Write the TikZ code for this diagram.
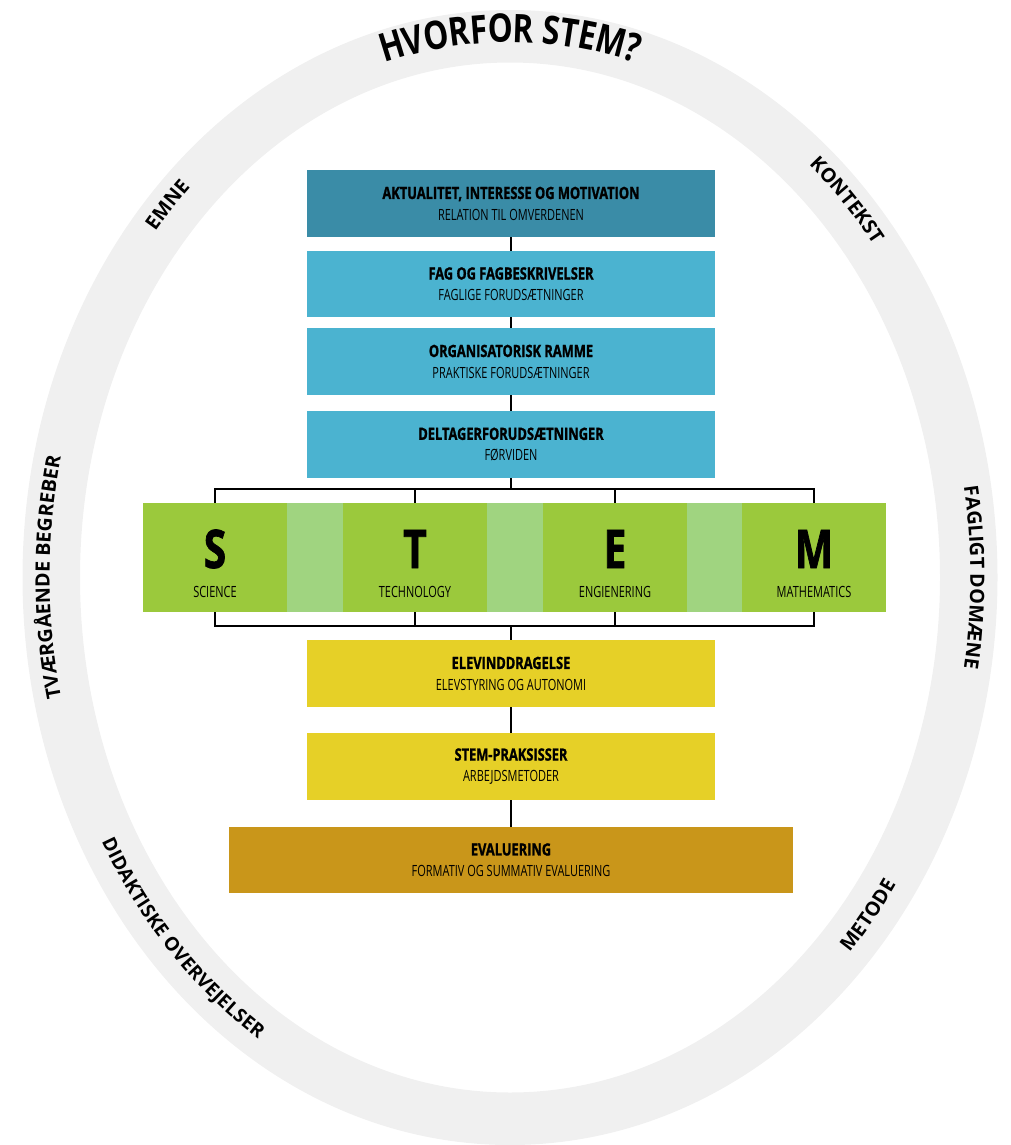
\documentclass[tikz,border=0pt]{standalone}
\usepackage{fontspec}
\setmainfont{Open Sans}
\newfontfamily\boxfont{Open Sans}[FakeStretch=0.71]
\newfontfamily\boxbold{Open Sans}[FakeStretch=0.76, FakeBold=1.3]
\newfontfamily\titlefont{Open Sans}[FakeStretch=0.8]
\usepackage{tikz}
\usetikzlibrary{decorations.text}
\usepackage{xcolor}
\definecolor{ringgray}{HTML}{F0F0F0}
\definecolor{tealdark}{HTML}{3A8CA7}
\definecolor{teallight}{HTML}{4BB3D0}
\definecolor{stemgreen}{HTML}{9BC93C}
\definecolor{stemlight}{HTML}{A0D480}
\definecolor{elevyellow}{HTML}{E6D027}
\definecolor{evalgold}{HTML}{C9961A}

\begin{document}
\begin{tikzpicture}[x=0.025cm, y=0.025cm]
          \tikzset{
            BoxStyle/.style = { rectangle, minimum width = 10.2cm,
              minimum height = 1.675cm, inner sep = 0pt, align = center,
              text = black, font = \boxfont\fontsize{11}{15}\selectfont },
            StemStyle/.style = { rectangle, fill = stemgreen, inner sep = 0pt,
              minimum width = 3.6cm, minimum height = 2.725cm },
            LetterStyle/.style = { inner sep = 0pt,
              font = \boxbold\bfseries\fontsize{38}{38}\selectfont },
            WordStyle/.style = { inner sep = 0pt,
              font = \boxfont\fontsize{11}{11}\selectfont },
            LinkStyle/.style = { draw = black, line width = 1pt },
            RingLabel/.style = { decorate, decoration = { text along path,
              text align = center, raise = 1pt } } }
          \newcommand{\boxtitle}[1]{{\boxbold\bfseries\fontsize{12}{15}\selectfont #1}}

          \useasboundingbox (0,0) rectangle (1011,-1145);
          % ring
          \fill[ringgray, even odd rule]
            (510,-577.5) ellipse [x radius = 487.5, y radius = 567.5]
            (510,-577.5) ellipse [x radius = 430, y radius = 515];

          \path[RingLabel, decoration = {text = {|\titlefont\bfseries\fontsize{28}{28}\selectfont|HVORFOR STEM?}, raise = -4pt}]
            (510,-577.5) ++(125:459 and 541) arc [start angle = 125, end angle = 55, x radius = 459, y radius = 541];
          \path[RingLabel, decoration = {text = {|\bfseries\fontsize{14}{14}\selectfont|EMNE}}]
            (510,-577.5) ++(147:459 and 541) arc [start angle = 147, end angle = 127, x radius = 459, y radius = 541];
          \path[RingLabel, decoration = {text = {|\bfseries\fontsize{14}{14}\selectfont|KONTEKST}}]
            (510,-577.5) ++(60:459 and 541) arc [start angle = 60, end angle = 28, x radius = 459, y radius = 541];
          \path[RingLabel, decoration = {text = {|\bfseries\fontsize{14}{14}\selectfont|TVÆRGÅENDE BEGREBER}}]
            (510,-577.5) ++(205:459 and 541) arc [start angle = 205, end angle = 155, x radius = 459, y radius = 541];
          \path[RingLabel, decoration = {text = {|\bfseries\fontsize{14}{14}\selectfont|FAGLIGT DOMÆNE}}]
            (510,-577.5) ++(22:459 and 541) arc [start angle = 22, end angle = -22, x radius = 459, y radius = 541];
          % these two run the other way round
          \path[RingLabel, decoration = {text = {|\bfseries\fontsize{13.5}{14}\selectfont|DIDAKTISKE OVERVEJELSER}, raise = -5pt}]
            (510,-577.5) ++(194:459 and 541) arc [start angle = 194, end angle = 254, x radius = 459, y radius = 541];
          \path[RingLabel, decoration = {text = {|\bfseries\fontsize{14}{14}\selectfont|METODE}, raise = -5pt}]
            (510,-577.5) ++(305:459 and 541) arc [start angle = 305, end angle = 337, x radius = 459, y radius = 541];

          % boxes above
          \node[BoxStyle, fill = tealdark] (AKTUALITET) at (511,-203.5)
            {\boxtitle{AKTUALITET, INTERESSE OG MOTIVATION}\\RELATION TIL OMVERDENEN};
          \node[BoxStyle, fill = teallight, minimum height = 1.65cm] (FAG) at (511,-284)
            {\boxtitle{FAG OG FAGBESKRIVELSER}\\FAGLIGE FORUDSÆTNINGER};
          \node[BoxStyle, fill = teallight] (ORGANISATION) at (511,-361.5)
            {\boxtitle{ORGANISATORISK RAMME}\\PRAKTISKE FORUDSÆTNINGER};
          \node[BoxStyle, fill = teallight] (DELTAGER) at (511,-444.5)
            {\boxtitle{DELTAGERFORUDSÆTNINGER}\\FØRVIDEN};

          % STEM bar
          \fill[stemlight] (143,-503) rectangle (886,-612);
          \node[StemStyle] (SCI) at (215,-557.5) {};
          \node[StemStyle] (TECH) at (415,-557.5) {};
          \node[StemStyle] (ENG) at (615,-557.5) {};
          \node[StemStyle] (MATH) at (814,-557.5) {};
          \node[LetterStyle] (SCI-letter) at (215,-549) {S};
          \node[LetterStyle] (TECH-letter) at (415,-549) {T};
          \node[LetterStyle] (ENG-letter) at (615,-549) {E};
          \node[LetterStyle] (MATH-letter) at (814,-549) {M};
          \node[WordStyle] (SCI-word) at (215,-592) {SCIENCE};
          \node[WordStyle] (TECH-word) at (415,-592) {TECHNOLOGY};
          \node[WordStyle] (ENG-word) at (615,-592) {ENGIENERING};
          \node[WordStyle] (MATH-word) at (814,-592) {MATHEMATICS};

          % boxes below
          \node[BoxStyle, fill = elevyellow] (ELEV) at (511,-673.5)
            {\boxtitle{ELEVINDDRAGELSE}\\ELEVSTYRING OG AUTONOMI};
          \node[BoxStyle, fill = elevyellow] (PRAKSIS) at (511,-766.5)
            {\boxtitle{STEM-PRAKSISSER}\\ARBEJDSMETODER};
          \node[BoxStyle, fill = evalgold, minimum width = 14.1cm, minimum height = 1.65cm] (EVAL) at (511,-860)
            {\boxtitle{EVALUERING}\\FORMATIV OG SUMMATIV EVALUERING};

          \coordinate (TOPBAR) at (511,-489);
          \coordinate (BOTBAR) at (511,-626);
          \draw[LinkStyle] (AKTUALITET) -- (FAG);
          \draw[LinkStyle] (FAG) -- (ORGANISATION);
          \draw[LinkStyle] (ORGANISATION) -- (DELTAGER);
          \draw[LinkStyle] (DELTAGER.south) -- (TOPBAR);
          \draw[LinkStyle] (SCI.north) |- (TOPBAR) -| (MATH.north);
          \draw[LinkStyle] (TECH.north) -- (TECH.north |- TOPBAR);
          \draw[LinkStyle] (ENG.north) -- (ENG.north |- TOPBAR);
          \draw[LinkStyle] (SCI.south) |- (BOTBAR) -| (MATH.south);
          \draw[LinkStyle] (TECH.south) -- (TECH.south |- BOTBAR);
          \draw[LinkStyle] (ENG.south) -- (ENG.south |- BOTBAR);
          \draw[LinkStyle] (BOTBAR) -- (ELEV.north);
          \draw[LinkStyle] (ELEV) -- (PRAKSIS);
          \draw[LinkStyle] (PRAKSIS) -- (EVAL);
          % \draw[LinkStyle] (DELTAGER) -- (ELEV);
\end{tikzpicture}
\end{document}
